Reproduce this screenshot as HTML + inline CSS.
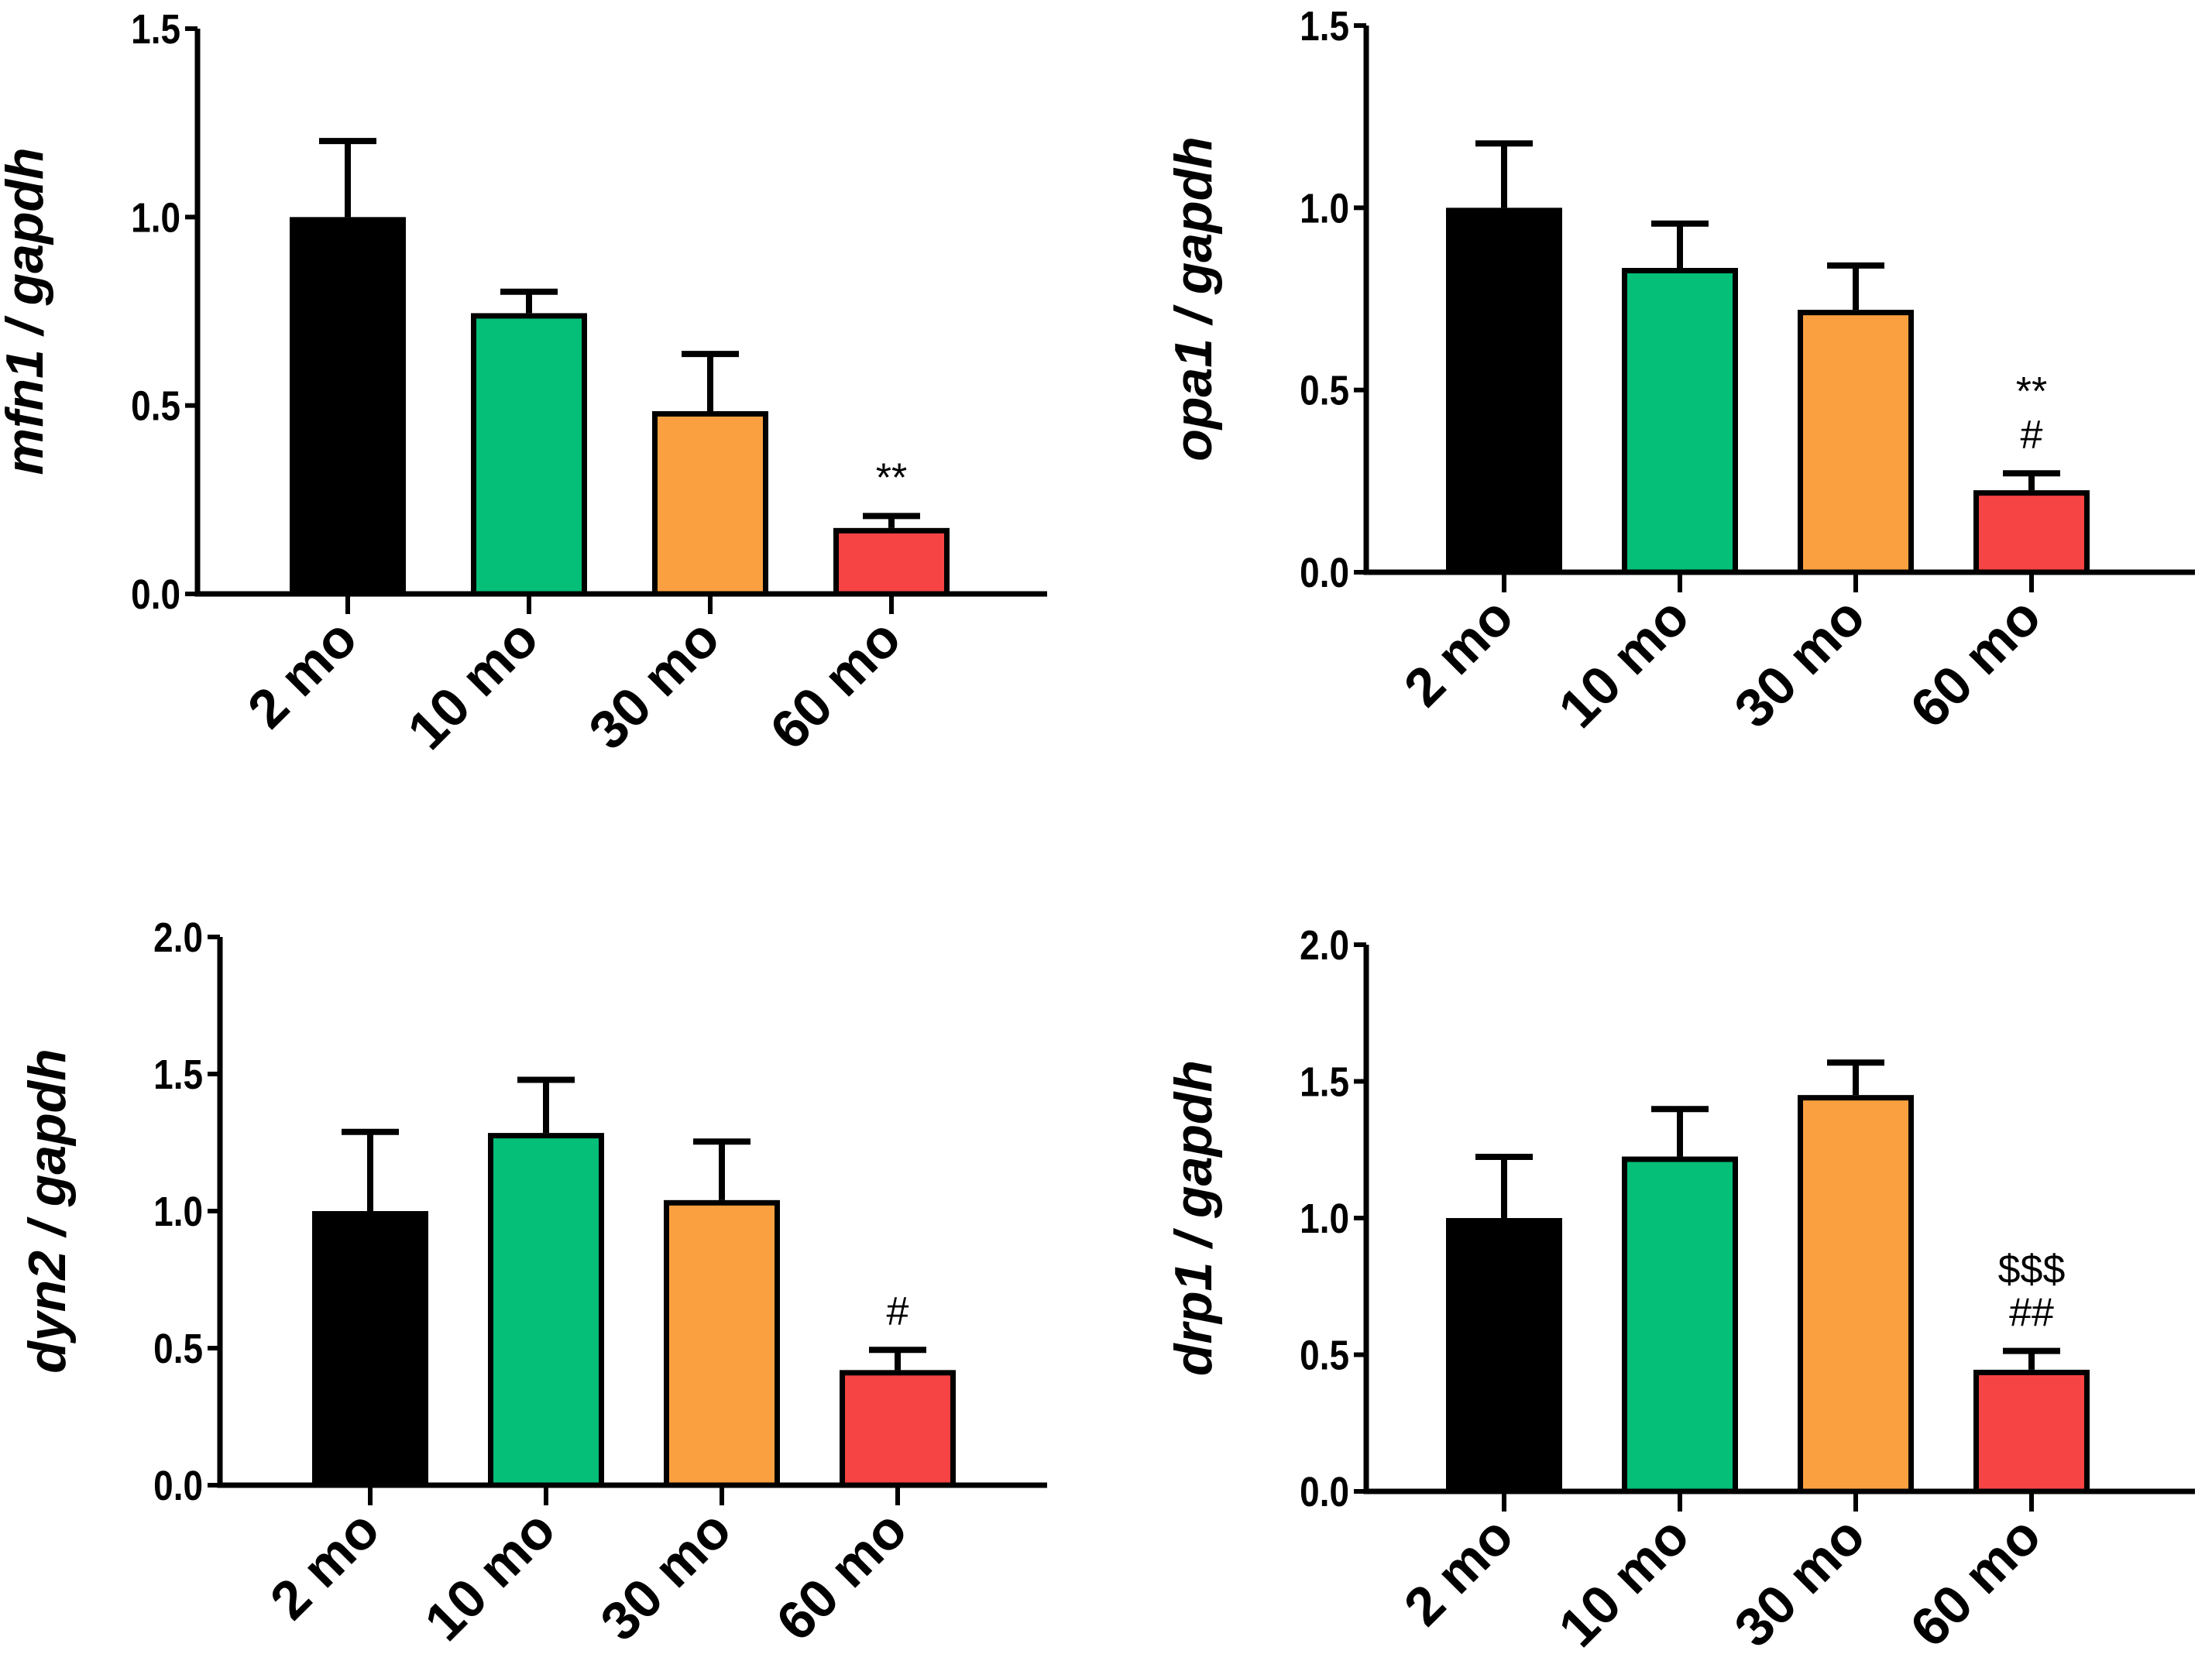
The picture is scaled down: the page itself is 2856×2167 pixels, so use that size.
<!DOCTYPE html>
<html><head><meta charset="utf-8"><style>
html,body{margin:0;padding:0;background:#fff;}
svg{display:block;}
text{font-family:"Liberation Sans",Arial,sans-serif;}
</style></head><body>
<svg id="fig" width="2856" height="2167" viewBox="0 0 2856 2167" xmlns="http://www.w3.org/2000/svg"></svg>
<script>
const categories = ["2 mo","10 mo","30 mo","60 mo"];
const colors = ["#000000","#05BE78","#FBA040","#F64343"];
const mfn1Values = [1.0, 0.745, 0.485, 0.175];
const mfn1Errors = [0.21, 0.065, 0.16, 0.04];
const opa1Values = [1.0, 0.835, 0.72, 0.225];
const opa1Errors = [0.185, 0.13, 0.13, 0.055];
const dyn2Values = [1.0, 1.285, 1.04, 0.42];
const dyn2Errors = [0.30, 0.205, 0.225, 0.085];
const drp1Values = [1.0, 1.225, 1.45, 0.445];
const drp1Errors = [0.235, 0.185, 0.13, 0.08];
const ticks15 = [0.0, 0.5, 1.0, 1.5];
const ticks20 = [0.0, 0.5, 1.0, 1.5, 2.0];
const mfn1Annot = ["", "", "", "**"];
const opa1Annot = ["", "", "", "**\n#"];
const dyn2Annot = ["", "", "", "#"];
const drp1Annot = ["", "", "", "$$$\n##"];

const NS = "http://www.w3.org/2000/svg";
const svg = document.getElementById("fig");
function mk(tag, attrs, parent){
  const e = document.createElementNS(NS, tag);
  for (const k in attrs) e.setAttribute(k, attrs[k]);
  (parent||svg).appendChild(e);
  return e;
}

function panel(p){
  const g = mk("g", {});
  
  
  const y = v => p.y0 - (v / p.ymax) * (p.y0 - p.ytop);
  const x = i => p.cx0 + i * p.step;
  const bw = 150;
  p.values.forEach((v, i) => {
    const r = mk("rect", {x: x(i) - bw/2 + 3.5, y: y(v) + 3.5, width: bw - 7, height: Math.max(0, p.y0 - y(v) - 3.5),
      fill: colors[i], stroke: "#000", "stroke-width": 7}, g);
    
    
    const top = v + p.errors[i];
    const eb = mk("path", {d: `M${x(i)} ${y(v)} V${y(top)} M${x(i)-37} ${y(top)+4} H${x(i)+37}`,
      stroke: "#000", "stroke-width": 8, fill: "none"}, g);
    
    
    if (p.annot[i]) {
      const lines = p.annot[i].split("\n");
      lines.forEach((s, j) => {
        const t = mk("text", {x: x(i), y: y(top) - 28 - (lines.length - 1 - j) * 56, "text-anchor": "middle",
          "font-size": 52}, g);
        t.textContent = s;
        
        
      });
    }
    mk("line", {x1: x(i), x2: x(i), y1: p.y0, y2: p.y0 + 26, stroke: "#000", "stroke-width": 6}, g);
    const lx = x(i) + 16, ly = p.y0 + 62;
    const lab = mk("text", {x: lx, y: ly, "text-anchor": "end", "font-size": 70, "font-weight": "bold",
      transform: `rotate(-45 ${lx} ${ly})`}, g);
    lab.textContent = categories[i];
    
    
  });
  const ax = mk("path", {d: `M${p.ax} ${p.ytop} V${p.y0} H${p.xend}`, stroke: "#000", "stroke-width": 7, fill: "none"}, g);
  
  
  p.ticks.forEach(tv => {
    mk("line", {x1: p.ax - 16, x2: p.ax, y1: y(tv), y2: y(tv), stroke: "#000", "stroke-width": 6}, g);
    const tx0 = p.ax - 22, ty0 = y(tv) + 19;
    const t = mk("text", {x: tx0, y: ty0, "text-anchor": "end", "font-size": 54, "font-weight": "bold",
      transform: `translate(${tx0} 0) scale(0.85 1) translate(${-tx0} 0)`}, g);
    t.textContent = tv.toFixed(1);
    
    
  });
  const tx = p.ax - 200, ty = (p.ytop + p.y0) / 2;
  const yt = mk("text", {x: tx, y: ty, "text-anchor": "middle", "font-size": 68, "font-weight": "bold",
    "font-style": "italic", transform: `rotate(-90 ${tx} ${ty})`}, g);
  yt.textContent = p.title;
  
  
}

panel({name:"mfn1", title:"mfn1 / gapdh", values:mfn1Values, errors:mfn1Errors, annot:mfn1Annot, ticks:ticks15, ymax:1.5,
  ax:255, ytop:37, y0:767, xend:1352, cx0:449, step:234});
panel({name:"opa1", title:"opa1 / gapdh", values:opa1Values, errors:opa1Errors, annot:opa1Annot, ticks:ticks15, ymax:1.5,
  ax:1764, ytop:33, y0:739, xend:2834, cx0:1942, step:227});
panel({name:"dyn2", title:"dyn2 / gapdh", values:dyn2Values, errors:dyn2Errors, annot:dyn2Annot, ticks:ticks20, ymax:2.0,
  ax:284, ytop:1210, y0:1918, xend:1352, cx0:478, step:227});
panel({name:"drp1", title:"drp1 / gapdh", values:drp1Values, errors:drp1Errors, annot:drp1Annot, ticks:ticks20, ymax:2.0,
  ax:1764, ytop:1220, y0:1926, xend:2834, cx0:1942, step:227});
</script>
</body></html>
